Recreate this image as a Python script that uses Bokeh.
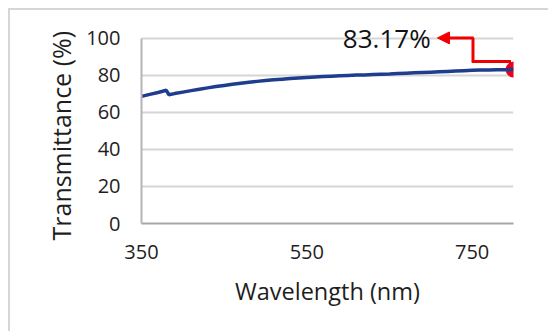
from bokeh.plotting import figure
from bokeh.models import Range1d, FixedTicker, Label, Arrow, NormalHead, ColumnDataSource, Title
from bokeh.embed import file_html
from bokeh.resources import INLINE

# ---- data ----
wavelength = [350, 360, 370, 380, 383, 390, 400, 410, 420, 430, 440, 450, 460, 470,
              480, 490, 500, 510, 520, 530, 540, 550, 560, 570, 580, 590, 600, 610,
              620, 630, 640, 650, 660, 670, 680, 690, 700, 710, 720, 730, 740, 750,
              760, 770, 780, 790, 800]
transmittance = [68.7, 69.8, 70.8, 72.0, 69.6, 70.2, 71.0, 71.8, 72.6, 73.3, 74.0, 74.6,
                 75.2, 75.8, 76.3, 76.8, 77.3, 77.7, 78.0, 78.3, 78.6, 78.9, 79.2, 79.4,
                 79.6, 79.8, 80.0, 80.2, 80.3, 80.5, 80.7, 80.8, 81.0, 81.2, 81.4, 81.6,
                 81.8, 82.0, 82.2, 82.4, 82.6, 82.8, 82.9, 83.0, 83.1, 83.15, 83.17]
x_ticks = [350, 550, 750]
y_ticks = [0, 20, 40, 60, 80, 100]
callout_text = "83.17%"
x_title = "Wavelength (nm)"
y_title = "Transmittance (%)"

FONT = "Open Sans"
TXT = "#1e1e1e"

p = figure(width=540, height=323, output_backend="svg", toolbar_location=None,
           x_range=Range1d(350, 800), y_range=Range1d(0, 107),
           min_border_left=131, min_border_right=37, min_border_top=15, min_border_bottom=110,
           styles={"margin": "8px 0 0 8px",
                   "border-top": "2px solid #d6d6d6", "border-left": "2px solid #d6d6d6"})
p.outline_line_color = None
p.background_fill_color = "white"
p.border_fill_color = "white"

# axes
p.xaxis.ticker = FixedTicker(ticks=x_ticks)
p.yaxis.ticker = FixedTicker(ticks=y_ticks)
p.xaxis.axis_label = x_title
for ax in (p.xaxis, p.yaxis):
    ax.major_tick_line_color = None
    ax.minor_tick_line_color = None
    ax.major_tick_out = 0
    ax.major_label_text_font = FONT
    ax.major_label_text_font_size = "20px"
    ax.major_label_text_color = TXT
    ax.axis_label_text_font = FONT
    ax.axis_label_text_font_size = "23.5px"
    ax.axis_label_text_font_style = "normal"
    ax.axis_label_text_color = TXT
p.xaxis.axis_line_color = "#a6a6a6"
p.xaxis.axis_line_width = 2
p.yaxis.axis_line_color = "#b4b4b4"
p.yaxis.axis_line_width = 2
p.yaxis.bounds = (0, 100)
p.xaxis.major_label_standoff = 21
p.xaxis.axis_label_standoff = 13
p.yaxis.major_label_standoff = 21

p.add_layout(Title(text=y_title, align="left", offset=-17, standoff=11,
                   text_font=FONT, text_font_size="25px", text_font_style="normal",
                   text_color=TXT), "left")

p.xgrid.visible = False
p.ygrid.grid_line_color = "#d6d6d6"
p.ygrid.grid_line_width = 2

# marker at last point (behind the line)
p.scatter([wavelength[-1]], [transmittance[-1]], size=15, marker="circle",
          fill_color="#e8001c", line_color="#e8001c")

src = ColumnDataSource(dict(x=wavelength, y=transmittance))
p.line("x", "y", source=src, line_color="#1f3d8f", line_width=3.5)

# callout arrow
bend_x = 750
top_y = 100.3
step_y = 87.6
red = "#f00000"
p.add_layout(Arrow(x_start=wavelength[-1] - 3, y_start=step_y, x_end=bend_x, y_end=step_y,
                   line_color=red, line_width=3, end=None))
p.add_layout(Arrow(x_start=bend_x + 1, y_start=step_y - 0.7, x_end=bend_x + 1, y_end=top_y,
                   line_color=red, line_width=3, end=None))
p.add_layout(Arrow(x_start=bend_x + 2, y_start=top_y, x_end=708, y_end=top_y,
                   line_color=red, line_width=3,
                   end=NormalHead(size=12, fill_color=red, line_color=red)))

p.add_layout(Label(x=707, y=top_y, x_offset=-6, text=callout_text, text_align="right",
                   text_baseline="middle", text_font=FONT, text_font_size="26px",
                   text_color="#111111"))

open("out.html", "w").write(file_html(p, INLINE))
